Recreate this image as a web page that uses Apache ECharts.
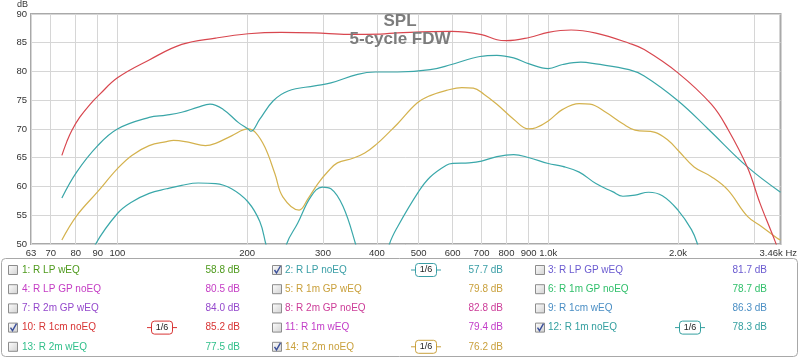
<!DOCTYPE html>
<html><head><meta charset="utf-8">
<script src="https://cdn.jsdelivr.net/npm/echarts@6/dist/echarts.min.js"></script>
<style>html,body{margin:0;padding:0;background:#fff}#c{width:800px;height:359px}</style>
</head><body><div id="c"></div><script>
// ---- axis ticks ----
const xTickFreqs = [63,70,80,90,100,200,300,400,500,600,700,800,900,1000,2000,3000];
const xLabelFreqs = [63,70,80,90,100,200,300,400,500,600,700,800,900,1000,2000];
const xLabelTexts = ['63','70','80','90','100','200','300','400','500','600','700','800','900','1.0k','2.0k'];
const xMinHz = 63, xMaxHz = 3460;
const yMin = 50, yMax = 90, yStep = 5;

// ---- series data (Hz / dB) ----
const redFreq = [74.3,76.3,78.3,81.7,86.2,90.9,100,118.5,141,169,201,240,287,343,408,447,596,700,760,800,903,1000,1130,1290,1540,1670,2000,2390,2610,2900,3100,3300,3360,3460];
const redDb   = [65.4,67.8,69.7,72.0,74.2,76.0,78.9,82.0,84.7,85.8,86.55,86.8,86.7,86.45,86.5,86.7,86.95,86.4,85.5,85.35,85.9,86.8,87.2,86.65,84.9,83.8,79.75,74.3,70.0,63.3,57.1,52.0,50.5,48.0];

const tealHiFreq = [74.3,80.4,90,100,118.5,129.7,141,154,164,176,191,201,204,214,230,249,287,313,361,397,447,532,596,694,760,831,903,1000,1080,1190,1290,1540,1670,2000,2350,2900,3460];
const tealHiDb   = [58.0,62.5,67.1,70.0,72.0,72.4,72.9,73.8,74.3,73.4,71.1,70.0,69.6,71.7,74.9,76.6,77.5,78.0,79.5,79.9,79.9,80.3,81.2,82.6,82.8,82.35,81.3,80.5,81.2,81.6,81.3,80.3,79.2,74.9,70.0,63.4,59.0];

const tealLoFreq = [85,89,100,108,118.5,130,141,154,169,184,201,214,221,230,240,247,262,281,299,313,334,357,372,412,428,447,500,532,580,600,655,700,760,831,903,1000,1080,1180,1290,1410,1490,1590,1710,1840,2000,2150,2220,2300];
const tealLoDb   = [46,50,55.3,57.3,58.8,59.6,60.2,60.6,60.5,59.6,57.3,53.9,50,45,45,50,53.6,58.2,59.9,59.6,56.5,50,45,45,50,53.0,59.1,61.65,63.7,64.0,64.1,64.4,65.2,65.55,65.0,64.0,63.5,62.5,60.5,59.1,58.3,58.5,59.0,58.4,55.9,52.5,50,46];

const goldFreq = [74.3,80.4,90,100,108,118.5,130,135,146,160,169,184,201,209,220,232,242,264,277,292,308,324,352,375,400,428,447,496,532,580,630,670,710,760,831,900,936,1000,1080,1180,1250,1360,1490,1590,1770,1900,2000,2180,2390,2610,2900,3130,3400,3460];
const goldDb   = [50.7,54.9,59.1,63.1,65.4,67.1,67.8,68.0,67.7,67.1,67.5,68.8,70.0,69.4,66.8,62.2,58.2,55.9,57.9,60.5,62.6,64.1,64.9,65.8,67.4,69.5,70.9,74.5,75.8,76.7,77.2,77.1,76.0,74.3,71.7,70.0,70.2,71.4,73.4,74.4,74.3,72.9,70.9,69.8,69.4,68.0,66.3,63.4,61.7,59.4,54.8,53.0,51.0,50.7];

// ---- legend table ----
const legendNames = ['1: R LP wEQ','2: R LP noEQ','3: R LP GP wEQ','4: R LP GP noEQ','5: R 1m GP wEQ','6: R 1m GP noEQ','7: R 2m GP wEQ','8: R 2m GP noEQ','9: R 1cm wEQ','10: R 1cm noEQ','11: R 1m wEQ','12: R 1m noEQ','13: R 2m wEQ','14: R 2m noEQ'];
const legendValues = ['58.8 dB','57.7 dB','81.7 dB','80.5 dB','79.8 dB','78.7 dB','84.0 dB','82.8 dB','86.3 dB','85.2 dB','79.4 dB','78.3 dB','77.5 dB','76.2 dB'];
const legendColors = ['#4e9a1c','#3a9ea6','#6a5ad0','#c43cc4','#c9a03c','#2fbf6a','#9448cc','#cc3c98','#4a8ec4','#d83434','#c23cc8','#35a0a0','#2fbf8a','#c9a03c'];
const legendChecked = [false,true,false,false,false,false,false,false,false,true,false,true,false,true];

const FONT = '"Liberation Sans", Arial, sans-serif';
const L = Math.log10;
function pairs(f, d){ return f.map((v,i)=>[L(v), d[i]]); }
const labelMap = {};
xLabelFreqs.forEach((f,i)=>{ labelMap[f] = xLabelTexts[i]; });

// legend graphics
const colX = [8, 272, 535], textX = [22, 285, 548], valRight = [240, 503, 767], badgeX = [162, 426, 690];
const rowY = [270, 289.2, 308.4, 327.6, 346.8];
const g = [];
g.push({type:'rect', shape:{x:1.5, y:258.5, width:796, height:98, r:4}, style:{fill:'#fff', stroke:'#a8a8a8', lineWidth:1}, z:0});
legendNames.forEach((name, i)=>{
  const r = Math.floor(i/3), c = i%3, y = rowY[r];
  const col = legendColors[i];
  g.push({type:'rect', shape:{x:colX[c]+0.5, y:y-4.5, width:9, height:9},
    style:{fill:new echarts.graphic.LinearGradient(0,0,1,1,[{offset:0,color:'#ffffff'},{offset:1,color:'#d0d0d0'}]), stroke:'#8c8c8c', lineWidth:1}, z:2});
  if (legendChecked[i]) {
    g.push({type:'polyline', shape:{points:[[colX[c]+2.5,y],[colX[c]+4.5,y+3],[colX[c]+8.5,y-4]]}, style:{stroke:'#3a4f9a', lineWidth:1.4, fill:null}, z:3});
    g.push({type:'line', shape:{x1:badgeX[c]-15, y1:y, x2:badgeX[c]+15, y2:y}, style:{stroke:col, lineWidth:1}, z:2});
    g.push({type:'rect', shape:{x:badgeX[c]-10.5, y:y-6.5, width:21, height:13, r:3}, style:{fill:'#fff', stroke:col, lineWidth:1}, z:3});
    g.push({type:'text', x:badgeX[c], y:y, style:{text:'1/6', fill:'#222', font:'9px '+FONT, align:'center', verticalAlign:'middle'}, z:4});
  }
  g.push({type:'text', x:textX[c], y:y, style:{text:name, fill:col, font:'10px '+FONT, align:'left', verticalAlign:'middle'}, z:2});
  g.push({type:'text', x:valRight[c], y:y, style:{text:legendValues[i], fill:col, font:'10px '+FONT, align:'right', verticalAlign:'middle'}, z:2});
});

const chart = echarts.init(document.getElementById('c'), null, {renderer:'canvas'});
const lineBase = {type:'line', symbol:'none', smooth:0.4, clip:true, silent:true};
chart.setOption({
  animation:false,
  backgroundColor:'#fff',
  title:{text:'SPL\n5-cycle FDW', left:400, top:12, padding:0, textAlign:'center',
    textStyle:{fontFamily:FONT, fontSize:17, fontWeight:'bold', color:'#7c7c7c', lineHeight:18}},
  grid:{left:31, right:14, top:12, bottom:115, show:true, borderColor:'#a9a9a9', borderWidth:2, backgroundColor:'transparent'},
  xAxis:{type:'value', min:L(xMinHz), max:L(xMaxHz),
    name:'3.46k Hz', nameLocation:'end', nameGap:-21,
    nameTextStyle:{fontFamily:FONT, fontSize:9.5, color:'#333', verticalAlign:'top', padding:[4,0,0,0]},
    axisLine:{show:false},
    axisTick:{show:false, customValues:xTickFreqs.map(L)},
    axisLabel:{customValues:xLabelFreqs.map(L), margin:4, fontFamily:FONT, fontSize:9.5, color:'#333',
      formatter:(v)=>labelMap[Math.round(Math.pow(10,v))] || ''},
    splitLine:{show:true, lineStyle:{color:'#d6d6d6', width:1}}},
  yAxis:{type:'value', min:yMin, max:yMax, interval:yStep,
    name:'dB', nameLocation:'end', nameGap:3,
    nameTextStyle:{fontFamily:FONT, fontSize:9, color:'#333', align:'right', verticalAlign:'bottom', padding:[0,3,0,0]},
    axisLine:{show:false}, axisTick:{show:false},
    axisLabel:{margin:4, fontFamily:FONT, fontSize:9.5, color:'#333'},
    splitLine:{show:true, lineStyle:{color:'#d6d6d6', width:1}}},
  graphic:g,
  series:[
    Object.assign({name:'14: R 2m noEQ', data:pairs(goldFreq, goldDb), lineStyle:{color:'#d4b24e', width:1.2}}, lineBase),
    Object.assign({name:'2: R LP noEQ', data:pairs(tealLoFreq, tealLoDb), lineStyle:{color:'#3aa8aa', width:1.2}}, lineBase),
    Object.assign({name:'12: R 1m noEQ', data:pairs(tealHiFreq, tealHiDb), lineStyle:{color:'#3aa6a8', width:1.2}}, lineBase),
    Object.assign({name:'10: R 1cm noEQ', data:pairs(redFreq, redDb), lineStyle:{color:'#d8474f', width:1.2}}, lineBase)
  ]
});
</script></body></html>
